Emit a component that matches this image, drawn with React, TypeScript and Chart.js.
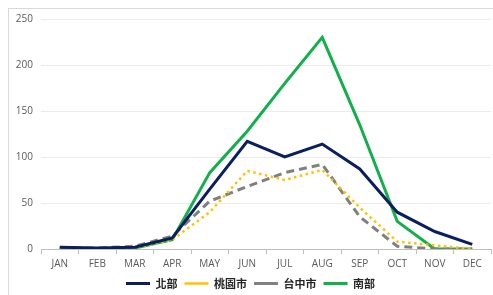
import React, { useEffect, useRef } from "react";
import { Chart, registerables } from "chart.js";

Chart.register(...registerables);

const months = ["JAN", "FEB", "MAR", "APR", "MAY", "JUN", "JUL", "AUG", "SEP", "OCT", "NOV", "DEC"];
const seriesNames = ["北部", "桃園市", "台中市", "南部"];
const north = [2, 1, 2, 12, 65, 117, 100, 114, 87, 40, 19, 5];
const taoyuan = [0, 0, 1, 10, 40, 85, 75, 86, 45, 8, 4, 0];
const taichung = [1, 1, 3, 14, 52, 68, 83, 92, 35, 3, 0, 0];
const south = [0, 0, 1, 10, 83, 128, 180, 230, 135, 30, 0, 0];
const yTicks = [0, 50, 100, 150, 200, 250];

export default function App() {
  const ref = useRef<HTMLCanvasElement>(null);
  useEffect(() => {
    document.body.style.overflow = "hidden";
    const ctx = ref.current!.getContext("2d")!;
    const chart = new Chart(ctx, {
      type: "line",
      data: {
        labels: months,
        datasets: [
          { label: seriesNames[0], data: north, borderColor: "#0b1f5e", backgroundColor: "#0b1f5e", borderWidth: 3, pointRadius: 0, tension: 0 },
          { label: seriesNames[1], data: taoyuan, borderColor: "#ffc000", backgroundColor: "#ffc000", borderWidth: 2.5, borderDash: [2.5, 3.5], pointRadius: 0, tension: 0 },
          { label: seriesNames[2], data: taichung, borderColor: "#808080", backgroundColor: "#808080", borderWidth: 3, borderDash: [8, 5], pointRadius: 0, tension: 0 },
          { label: seriesNames[3], data: south, borderColor: "#12b04b", backgroundColor: "#12b04b", borderWidth: 3, pointRadius: 0, tension: 0 },
        ],
      },
      options: {
        responsive: false,
        animation: false,
        layout: { padding: { left: 10, right: 2, top: 19, bottom: -4 } },
        plugins: {
          tooltip: { enabled: false },
          legend: {
            position: "bottom",
            labels: {
              usePointStyle: true,
              pointStyle: "line",
              pointStyleWidth: 24,
              padding: 7,
              color: "#262626",
              font: { family: "'Noto Sans CJK TC', 'Noto Sans', sans-serif", size: 11, weight: "bold" },
            },
          },
        },
        scales: {
          x: {
            offset: true,
            grid: { display: true, drawOnChartArea: false, drawTicks: true, tickLength: 5, color: "#bfbfbf", offset: true },
            border: { display: true, color: "#bfbfbf", width: 1 },
            ticks: { color: "#595959", font: { family: "'Open Sans', 'Noto Sans', sans-serif", size: 10 }, padding: 4, maxRotation: 0, autoSkip: false },
            afterFit: (s: any) => { s.height = 22; },
          },
          y: {
            min: 0,
            max: 250,
            afterBuildTicks: (s: any) => { s.ticks = yTicks.map((v) => ({ value: v })); },
            grid: { color: "#ebebeb", drawTicks: false },
            border: { display: false },
            ticks: { color: "#595959", font: { family: "'Open Sans', 'Noto Sans', sans-serif", size: 10 }, padding: 8 },
            afterFit: (s: any) => { s.width = 31; },
          },
        },
      },
    });
    return () => chart.destroy();
  }, []);
  return (
    <div>
      <div style={{ position: "fixed", left: 8, top: 8, width: 500, height: 300, borderLeft: "1px solid #d9d9d9", borderTop: "1px solid #d9d9d9", pointerEvents: "none" }} />
      <canvas ref={ref} width={493} height={295} style={{ position: "fixed", left: 0, top: 0 }} />
    </div>
  );
}
